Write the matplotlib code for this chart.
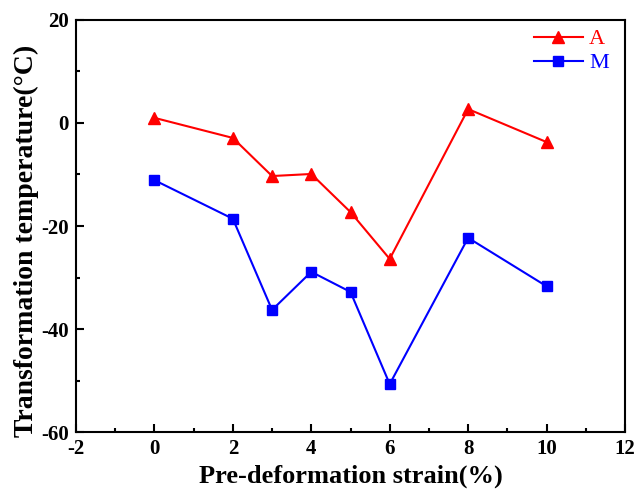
import matplotlib.pyplot as plt
from matplotlib.ticker import MultipleLocator

plt.rcParams['font.family'] = ['Liberation Serif', 'DejaVu Serif']
plt.rcParams['axes.unicode_minus'] = False

# Pre-deformation strain (%) and transformation temperatures (°C)
strain = [0, 2, 3, 4, 5, 6, 8, 10]
temp_A = [1.0, -2.9, -10.3, -9.9, -17.3, -26.4, 2.7, -3.7]
temp_M = [-11.1, -18.6, -36.3, -28.9, -32.8, -50.7, -22.3, -31.7]

fig = plt.figure(figsize=(6.35, 4.9), dpi=100)
ax = fig.add_axes([76 / 635, 58 / 490, 549 / 635, 412 / 490])

ax.plot(strain, temp_A, color='red', marker='^', markersize=8, linewidth=1.5, label='A')
ax.plot(strain, temp_M, color='blue', marker='s', markersize=6.5, linewidth=1.5, label='M')

ax.set_xlim(-2, 12)
ax.set_ylim(-60, 20)
ax.xaxis.set_major_locator(MultipleLocator(2))
ax.xaxis.set_minor_locator(MultipleLocator(1))
ax.yaxis.set_major_locator(MultipleLocator(20))
ax.yaxis.set_minor_locator(MultipleLocator(10))
ax.tick_params(which='both', direction='in', width=1.5)
ax.tick_params(which='major', length=6, labelsize=15, pad=5)
ax.tick_params(which='minor', length=3)
for lbl in ax.get_xticklabels() + ax.get_yticklabels():
    lbl.set_fontweight('bold')
for sp in ax.spines.values():
    sp.set_linewidth(1.5)

ax.set_xlabel('Pre-deformation strain(%)', fontsize=19, fontweight='bold', labelpad=4)
ax.set_ylabel('Transformation temperature(°C)', fontsize=20, fontweight='bold', labelpad=2)
ax.yaxis.set_label_coords(-0.068, 0.465)

leg = ax.legend(loc='upper right', bbox_to_anchor=(0.987, 1.0), frameon=False, fontsize=16,
                handlelength=2.2, borderaxespad=0.0, handletextpad=0.3, labelspacing=0.15)
for text, line in zip(leg.get_texts(), leg.get_lines()):
    text.set_color(line.get_color())

fig.savefig('out.png', dpi=100)
